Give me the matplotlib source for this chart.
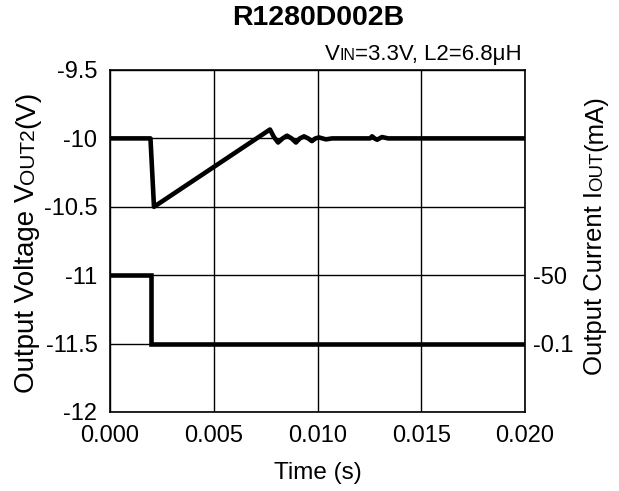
import matplotlib
matplotlib.use('Agg')
import matplotlib.pyplot as plt
from matplotlib.transforms import IdentityTransform

plt.rcParams['font.family'] = ['Liberation Sans', 'DejaVu Sans']

# output voltage VOUT2 (V) vs time (s)
time_v = [0.0, 0.00195, 0.00212, 0.00771, 0.00790, 0.00810, 0.00832, 0.00853,
          0.00875, 0.00896, 0.00915, 0.00935, 0.00955, 0.00973, 0.00990,
          0.01007, 0.01024, 0.01041, 0.01070, 0.01253, 0.01263, 0.01275,
          0.01287, 0.01299, 0.01311, 0.01340, 0.020]
vout2 = [-10.0, -10.0, -10.5, -9.935, -9.99, -10.03, -10.0, -9.98,
         -10.0, -10.03, -10.0, -9.985, -10.0, -10.02, -10.0,
         -9.993, -10.0, -10.007, -10.0, -10.0, -9.985, -10.0,
         -10.01, -10.0, -9.99, -10.0, -10.0]

# output current IOUT (mA) vs time (s)
time_i = [0.0, 0.00197, 0.00197, 0.020]
iout = [-50, -50, -0.1, -0.1]

v_ticks = [-9.5, -10, -10.5, -11, -11.5, -12]
v_labels = ['-9.5', '-10', '-10.5', '-11', '-11.5', '-12']
t_ticks = [0.000, 0.005, 0.010, 0.015, 0.020]
t_labels = ['0.000', '0.005', '0.010', '0.015', '0.020']
i_ticks = [-50, -0.1]
i_labels = ['-50', '-0.1']


def rich_text(fig, x, y, parts, rotation=0, ha='center', **kw):
    # place text pieces of different sizes on a shared baseline (pixel coords)
    r = fig.canvas.get_renderer()
    items = []
    for s, size in parts:
        t = fig.text(0, 0, s, fontsize=size, transform=IdentityTransform(),
                     ha='left', va='baseline', rotation_mode='anchor', **kw)
        items.append((t, t.get_window_extent(r).width))
    total = sum(w for _, w in items)
    pos = {'center': -total / 2, 'right': -total, 'left': 0}[ha]
    for t, w in items:
        if rotation == 90:
            t.set_rotation(90)
            t.set_position((x, y + pos))
        else:
            t.set_position((x + pos, y))
        pos += w


fig = plt.figure(figsize=(6.19, 4.91), dpi=100)
ax = fig.add_axes([110 / 619, 79 / 491, 415 / 619, 342 / 491])

ax.plot(time_v, vout2, color='black', lw=3.3, solid_joinstyle='round',
        solid_capstyle='butt', zorder=3)
ax.set_xlim(0, 0.020)
ax.set_ylim(-12, -9.5)
ax.set_xticks(t_ticks)
ax.set_xticklabels(t_labels)
ax.set_yticks(v_ticks)
ax.set_yticklabels(v_labels)
ax.grid(True, color='black', lw=1)
ax.tick_params(length=0, labelsize=17, pad=9)
for sp in ax.spines.values():
    sp.set_linewidth(1.2)

# current axis: -50 mA sits on the -11 V gridline, -0.1 mA on -11.5 V
ax2 = ax.twinx()
a = (-11.5 - -11) / (i_ticks[1] - i_ticks[0])
b = -11 - a * i_ticks[0]
ax2.set_ylim((-12 - b) / a, (-9.5 - b) / a)
ax2.plot(time_i, iout, color='black', lw=3.3, solid_joinstyle='miter', zorder=3)
ax2.set_yticks(i_ticks)
ax2.set_yticklabels(i_labels)
ax2.tick_params(length=0, labelsize=17, pad=6)
for sp in ax2.spines.values():
    sp.set_visible(False)

ax.set_xlabel('Time (s)', fontsize=17.5, labelpad=11)

fig.text(318 / 619, 473 / 491, 'R1280D002B', fontsize=20.5, fontweight='bold',
         ha='center', va='center')
rich_text(fig, 522, 431, [('V', 16), ('IN', 11.5), ('=3.3V, L2=6.8\u03bcH', 16)], ha='right')
rich_text(fig, 34, 249, [('Output Voltage V', 20), ('OUT2', 15), ('(V)', 20)], rotation=90)
rich_text(fig, 602, 256, [('Output Current I', 18.5), ('OUT', 13.5), ('(mA)', 18.5)], rotation=90)

fig.savefig('out.png', dpi=100)
